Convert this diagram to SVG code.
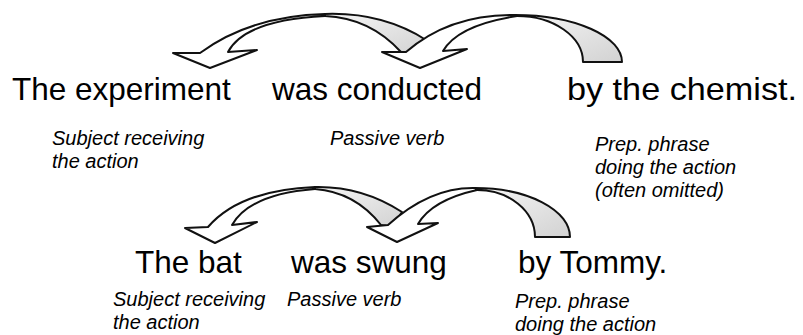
<svg xmlns="http://www.w3.org/2000/svg" width="803" height="335" viewBox="0 0 803 335">
  <defs>
    <linearGradient id="backShade" x1="0" y1="0" x2="1" y2="1">
      <stop offset="0" stop-color="#f6f6f6"/>
      <stop offset="1" stop-color="#d2d2d2"/>
    </linearGradient>
    <style>
      .front { fill: #ffffff; stroke: #111; stroke-width: 2; stroke-linejoin: round; }
      .back { fill: url(#backShade); stroke: #111; stroke-width: 2; stroke-linejoin: round; }
      .word { font-family: "Liberation Sans", Arial, sans-serif; font-size: 31.5px; fill: #000; }
      .note { font-family: "Liberation Sans", Arial, sans-serif; font-size: 20px; font-style: italic; fill: #000; }
    </style>
  </defs>
  <rect width="803" height="335" fill="#fff"/>

  <!-- curved ribbon arrows: shaded back half from the tail, white front half down to the head -->
  <g id="connectors">
    <!-- top: "was conducted" to "The experiment" -->
    <g id="arrow-top-left">
      <path class="back" d="M325,14 Q382,12 426,40 L413,55 L401,52 Q370,18 325,16 Z"/>
      <path class="front" d="M325,14 Q250,16 200,53 L173,53 L210,68 L257,50 L228,52 Q245,20 325,16 Z"/>
    </g>
    <!-- top: "by the chemist." to "was conducted" -->
    <g id="arrow-top-right">
      <path class="back" d="M515,15 A107 47 0 0 1 622,62 L583,62 A66 46 0 0 0 517,16 Z"/>
      <path class="front" d="M515,15 Q450,14 406,52 L382,52 L420,68 L467,49 L443,51 Q458,25 517,16 Z"/>
    </g>
    <!-- bottom: "was swung" to "The bat" -->
    <g id="arrow-bottom-left">
      <path class="back" d="M315,187 Q362,186 402,212 L392,227 L381,225 Q355,192 315,189 Z"/>
      <path class="front" d="M315,187 Q240,190 208,227 L185,228 L215,243 L257,222 L232,225 Q250,194 315,189 Z"/>
    </g>
    <!-- bottom: "by Tommy." to "was swung" -->
    <g id="arrow-bottom-right">
      <path class="back" d="M475,188 A95 49 0 0 1 570,237 L535,237 A58 47 0 0 0 477,190 Z"/>
      <path class="front" d="M475,188 Q430,187 388,225 L367,227 L397,242 L438,223 L418,224 Q432,200 477,190 Z"/>
    </g>
  </g>

  <!-- first sentence -->
  <g id="subject-1"><text class="word" x="12" y="100">The experiment</text></g>
  <g id="verb-1"><text class="word" x="272" y="100">was conducted</text></g>
  <g id="agent-1"><text class="word" x="567" y="100" textLength="230" lengthAdjust="spacingAndGlyphs">by the chemist.</text></g>
  <g id="subject-1-note"><text class="note" x="52" y="145">Subject receiving</text><text class="note" x="52" y="168">the action</text></g>
  <g id="verb-1-note"><text class="note" x="330" y="145">Passive verb</text></g>
  <g id="agent-1-note"><text class="note" x="595" y="151">Prep. phrase</text><text class="note" x="595" y="174">doing the action</text><text class="note" x="595" y="197">(often omitted)</text></g>

  <!-- second sentence -->
  <g id="subject-2"><text class="word" x="135" y="273">The bat</text></g>
  <g id="verb-2"><text class="word" x="291" y="273">was swung</text></g>
  <g id="agent-2"><text class="word" x="518" y="273">by Tommy.</text></g>
  <g id="subject-2-note"><text class="note" x="113" y="306">Subject receiving</text><text class="note" x="113" y="329">the action</text></g>
  <g id="verb-2-note"><text class="note" x="287" y="306">Passive verb</text></g>
  <g id="agent-2-note"><text class="note" x="515" y="308">Prep. phrase</text><text class="note" x="515" y="331">doing the action</text></g>
</svg>
